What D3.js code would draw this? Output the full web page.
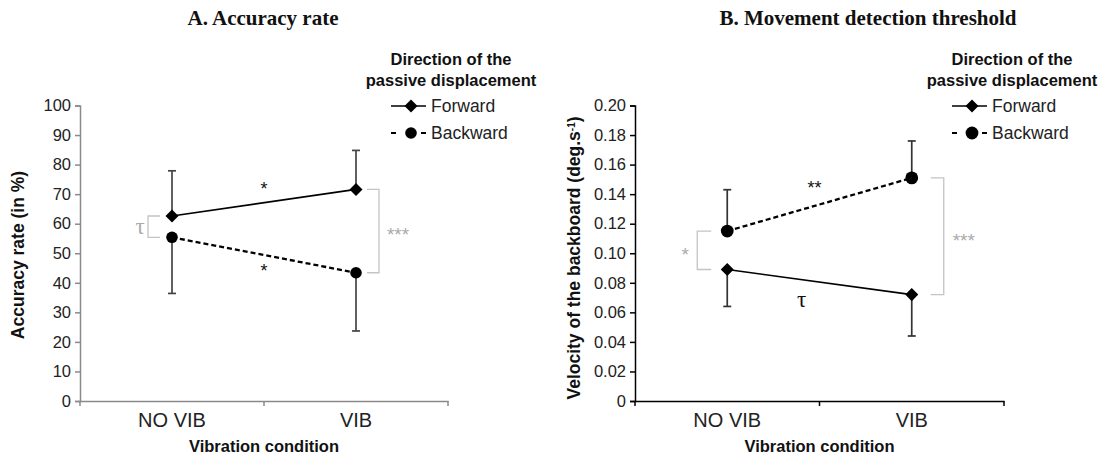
<!DOCTYPE html>
<html>
<head>
<meta charset="utf-8">
<script src="https://cdn.jsdelivr.net/npm/d3@7"></script>
<style>
  body { margin: 0; background: #fff; }
  svg { display: block; font-family: "Liberation Sans", Arial, sans-serif; }
</style>
</head>
<body>
<svg id="chart" width="1116" height="456"></svg>
<script>
// ---- data ----
const categories = ["NO VIB", "VIB"];
const seriesNames = ["Forward", "Backward"];

// Panel A: accuracy rate (%)
const accForward = [62.6, 71.6];
const accForwardErr = [15.3, 13.2];     // drawn upward
const accBackward = [55.4, 43.4];
const accBackwardErr = [19.0, 19.7];    // drawn downward
const accTicks = [0, 10, 20, 30, 40, 50, 60, 70, 80, 90, 100];

// Panel B: movement detection threshold (deg.s-1)
const thrForward = [0.089, 0.072];
const thrForwardErr = [0.025, 0.028];   // drawn downward
const thrBackward = [0.115, 0.151];
const thrBackwardErr = [0.028, 0.025];  // drawn upward
const thrTicks = [0, 0.02, 0.04, 0.06, 0.08, 0.10, 0.12, 0.14, 0.16, 0.18, 0.20];

// significance annotations
const accSig = { betweenNoVib: "τ", betweenVib: "***", forward: "*", backward: "*" };
const thrSig = { betweenNoVib: "*", betweenVib: "***", forward: "τ", backward: "**" };

const SANS = "'Liberation Sans', Arial, sans-serif";
const SERIF = "'Liberation Serif', 'Times New Roman', serif";

const svg = d3.select("#chart");

function panel(opts) {
  const g = svg.append("g");
  const x = d3.scaleBand().domain(categories).range([opts.x0, opts.x1]);
  const y = d3.scaleLinear().domain(opts.domain).range([401, 105.5]);
  const cx = c => x(c) + x.bandwidth() / 2;

  // y axis
  const ya = g.append("g").attr("transform", `translate(${opts.x0},0)`)
    .call(d3.axisLeft(y).tickValues(opts.ticks).tickSize(5).tickPadding(4).tickFormat(opts.fmt));
  ya.select(".domain").attr("stroke", opts.axisColor).attr("stroke-width", 1.5);
  ya.selectAll(".tick line").attr("stroke", opts.axisColor).attr("stroke-width", 1.5);
  ya.selectAll(".tick text").attr("fill", "#222")
    .style("font-family", SANS).style("font-size", "16.5px");

  // x axis
  const xa = g.append("g").attr("transform", `translate(0,401)`)
    .call(d3.axisBottom(x).tickSize(0).tickPadding(12));
  xa.select(".domain").attr("stroke", opts.axisColor).attr("stroke-width", 1.5);
  xa.selectAll(".tick text").attr("fill", "#222")
    .style("font-family", SANS).style("font-size", "20px");
  // boundary ticks between categories
  const bounds = [opts.x0, opts.x0 + x.bandwidth(), opts.x1];
  g.selectAll(".bt").data(bounds).join("line")
    .attr("x1", d => d).attr("x2", d => d).attr("y1", 401).attr("y2", 406)
    .attr("stroke", opts.axisColor).attr("stroke-width", 1.5);

  // axis titles
  g.append("text").attr("x", (opts.x0 + opts.x1) / 2).attr("y", 452)
    .attr("text-anchor", "middle").attr("fill", "#111")
    .style("font-family", SANS).style("font-weight", "bold").style("font-size", "16.5px")
    .text("Vibration condition");
  const yt = g.append("text")
    .attr("transform", `translate(${opts.ytX},${opts.ytY}) rotate(-90)`)
    .attr("text-anchor", "middle").attr("fill", "#111")
    .style("font-family", SANS).style("font-weight", "bold").style("font-size", "17.5px");
  opts.yTitle(yt);

  // panel title
  g.append("text").attr("x", opts.titleX).attr("y", 25).attr("text-anchor", "middle")
    .attr("fill", "#111")
    .style("font-family", SERIF).style("font-weight", "bold").style("font-size", "21px")
    .text(opts.title);

  // error bars
  function errBars(vals, errs, dir, color) {
    const eg = g.append("g");
    categories.forEach((c, i) => {
      const yEnd = y(vals[i] + dir * errs[i]);
      eg.append("line").attr("x1", cx(c)).attr("x2", cx(c))
        .attr("y1", y(vals[i])).attr("y2", yEnd).attr("stroke", color).attr("stroke-width", 1.7);
      eg.append("line").attr("x1", cx(c) - 4).attr("x2", cx(c) + 4)
        .attr("y1", yEnd).attr("y2", yEnd).attr("stroke", color).attr("stroke-width", 1.7);
    });
  }
  errBars(opts.fwd, opts.fwdErr, opts.fwdDir, opts.errColor);
  errBars(opts.bwd, opts.bwdErr, opts.bwdDir, opts.errColor);

  // brackets
  const brGray = "#c4c4c4";
  function bracket(ci, v1, v2, armNear, armFar) {
    const xc = cx(categories[ci]);
    const xn = xc + armNear, xf = xc + armFar;
    const p = d3.path();
    p.moveTo(xn, y(v1)); p.lineTo(xf, y(v1)); p.lineTo(xf, y(v2)); p.lineTo(xn, y(v2));
    g.append("path").attr("d", p.toString()).attr("fill", "none")
      .attr("stroke", brGray).attr("stroke-width", 1.3);
  }
  bracket(0, opts.fwd[0], opts.bwd[0], opts.br0[0], opts.br0[1]);
  bracket(1, opts.fwd[1], opts.bwd[1], opts.br1[0], opts.br1[1]);

  // lines
  const line = d3.line().x((d, i) => cx(categories[i])).y(d => y(d));
  g.append("path").datum(opts.fwd).attr("d", line).attr("fill", "none")
    .attr("stroke", "#000").attr("stroke-width", 1.7);
  g.append("path").datum(opts.bwd).attr("d", line).attr("fill", "none")
    .attr("stroke", "#000").attr("stroke-width", 2.3).attr("stroke-dasharray", "5,3");

  // markers
  const sq = d3.symbol().type(d3.symbolSquare).size(opts.diaSize);
  g.selectAll(".dia").data(opts.fwd).join("path")
    .attr("d", sq)
    .attr("transform", (d, i) => `translate(${cx(categories[i])},${y(d)}) rotate(45)`)
    .attr("fill", "#000");
  g.selectAll(".cir").data(opts.bwd).join("circle")
    .attr("cx", (d, i) => cx(categories[i])).attr("cy", d => y(d)).attr("r", opts.cirR)
    .attr("fill", "#000");

  // significance texts
  const mid = arr => y((arr[0] + arr[1]) / 2);
  const gray = "#aaaaaa";
  function t(xp, yp, txt, color, size, serif) {
    g.append("text").attr("x", xp).attr("y", yp).attr("text-anchor", "middle")
      .attr("dominant-baseline", "central").attr("fill", color)
      .style("font-size", size + "px").style("font-family", serif ? SERIF : SANS)
      .text(txt);
  }
  const xm = opts.x0 + x.bandwidth();
  opts.sigDraw(t, cx, y, mid, xm, gray);

  // legend
  const lg = g.append("g");
  [["Direction of the", 65], ["passive displacement", 86]].forEach(([s, yy]) => {
    lg.append("text").attr("x", opts.legX + 40).attr("y", yy).attr("text-anchor", "middle")
      .attr("fill", "#111")
      .style("font-family", SANS).style("font-weight", "bold").style("font-size", "16.5px")
      .text(s);
  });
  const ly = [106, 133];
  lg.append("line").attr("x1", opts.legX - 20).attr("x2", opts.legX + 15).attr("y1", ly[0]).attr("y2", ly[0])
    .attr("stroke", "#000").attr("stroke-width", 1.7);
  lg.append("path").attr("d", sq)
    .attr("transform", `translate(${opts.legX},${ly[0]}) rotate(45)`).attr("fill", "#000");
  lg.append("line").attr("x1", opts.legX - 20).attr("x2", opts.legX + 15).attr("y1", ly[1]).attr("y2", ly[1])
    .attr("stroke", "#000").attr("stroke-width", 2).attr("stroke-dasharray", "5,10");
  lg.append("circle").attr("cx", opts.legX).attr("cy", ly[1]).attr("r", opts.cirR).attr("fill", "#000");
  seriesNames.forEach((n, i) => {
    lg.append("text").attr("x", opts.legX + 20).attr("y", ly[i]).attr("dominant-baseline", "central")
      .attr("fill", "#222").style("font-family", SANS).style("font-size", "17.5px").text(n);
  });
}

panel({
  x0: 80, x1: 448, domain: [0, 100], ticks: accTicks, fmt: d3.format("d"),
  axisColor: "#8a8a8a", errColor: "#444",
  fwd: accForward, fwdErr: accForwardErr, fwdDir: 1,
  bwd: accBackward, bwdErr: accBackwardErr, bwdDir: -1,
  br0: [-12, -24], br1: [11, 23],
  diaSize: 85, cirR: 5.8,
  title: "A. Accuracy rate", titleX: 263,
  ytX: 24, ytY: 255,
  yTitle: t => t.text("Accuracy rate (in %)"),
  legX: 411,
  sigDraw: (t, cx, y, mid, xm, gray) => {
    t(cx("NO VIB") - 32, y((accForward[0] + accBackward[0]) / 2), accSig.betweenNoVib, gray, 23, true);
    t(cx("VIB") + 42, y((accForward[1] + accBackward[1]) / 2) + 3, accSig.betweenVib, gray, 19, false);
    t(xm, mid(accForward) - 14, accSig.forward, "#111", 18, false);
    t(xm, mid(accBackward) + 16, accSig.backward, "#111", 18, false);
  }
});

panel({
  x0: 635, x1: 1004, domain: [0, 0.2], ticks: thrTicks,
  fmt: d => d === 0 ? "0" : d3.format(".2f")(d),
  axisColor: "#000", errColor: "#333",
  fwd: thrForward, fwdErr: thrForwardErr, fwdDir: -1,
  bwd: thrBackward, bwdErr: thrBackwardErr, bwdDir: 1,
  br0: [-16, -30], br1: [19, 32],
  diaSize: 85, cirR: 6.4,
  title: "B. Movement detection threshold", titleX: 868,
  ytX: 580, ytY: 258,
  yTitle: t => { t.append("tspan").text("Velocity of the backboard  (deg.s");
                 t.append("tspan").attr("baseline-shift", "super").style("font-size", "10px").text("-1");
                 t.append("tspan").text(")"); },
  legX: 972,
  sigDraw: (t, cx, y, mid, xm, gray) => {
    t(cx("NO VIB") - 42, y((thrForward[0] + thrBackward[0]) / 2) + 4, thrSig.betweenNoVib, gray, 19, false);
    t(cx("VIB") + 52, y((thrForward[1] + thrBackward[1]) / 2) + 4, thrSig.betweenVib, gray, 19, false);
    t(xm - 18, mid(thrForward) + 17, thrSig.forward, "#111", 23, true);
    t(xm - 5, mid(thrBackward) - 16, thrSig.backward, "#111", 18, false);
  }
});
</script>
</body>
</html>
